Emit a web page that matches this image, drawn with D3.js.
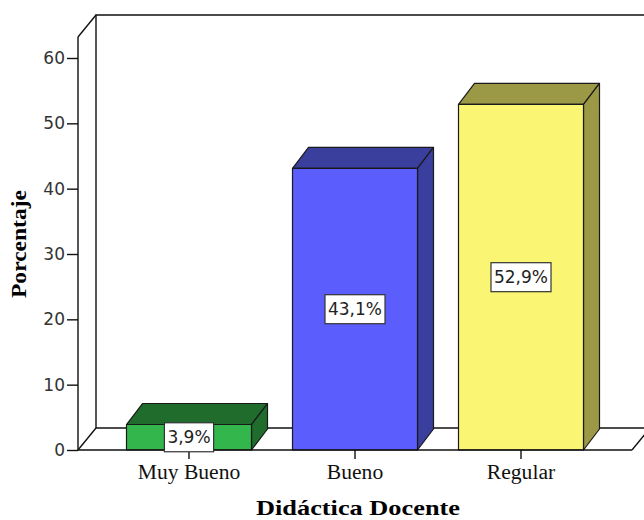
<!DOCTYPE html>
<html>
<head>
<meta charset="utf-8">
<script src="https://cdn.jsdelivr.net/npm/d3@7/dist/d3.min.js"></script>
<style>
  html, body { margin: 0; padding: 0; background: #fff; }
  svg { display: block; }
</style>
</head>
<body>
<svg id="chart" width="644" height="520"></svg>
<script>
// Didáctica Docente — porcentaje por categoría
const categories = ["Muy Bueno", "Bueno", "Regular"];
const values = [3.9, 43.1, 52.9];
const valueLabels = ["3,9%", "43,1%", "52,9%"];
const frontColors = ["#33b64b", "#5b5efd", "#faf572"];
const shadeColors = ["#1f6c2d", "#3a3e9c", "#9c9946"];
const yTicks = [0, 10, 20, 30, 40, 50, 60];

const svg = d3.select("#chart");

// plot frame
const x0 = 78, x1 = 632;          // front floor edge
const yBase = 450;
const wallDx = 18, wallDy = -22;  // depth of back wall
const barDx = 16, barDy = -21;    // depth of each bar

const y = d3.scaleLinear().domain([0, 60]).range([yBase, 58]);
const x = d3.scaleBand().domain(categories).range([106, 604])
  .paddingInner(0.247).paddingOuter(0.1235);

const axisTop = y(60) - 21;
const frame = svg.append("g")
  .attr("fill", "none").attr("stroke", "#111").attr("stroke-width", 1.4);

// back wall and floor
frame.append("path").attr("d",
  `M${x0 + wallDx},${yBase + wallDy}V${axisTop + wallDy}H${660}`);
frame.append("path").attr("d",
  `M${x0 + wallDx},${yBase + wallDy}H${660}`);
frame.append("path").attr("d",
  `M${x0},${yBase}L${x0 + wallDx},${yBase + wallDy}`);
frame.append("path").attr("d",
  `M${x1},${yBase}L${x1 + wallDx},${yBase + wallDy}`);
frame.append("path").attr("d",
  `M${x0},${axisTop}L${x0 + wallDx},${axisTop + wallDy}`);

// bars
const bars = svg.append("g").attr("stroke", "#1a1a1a").attr("stroke-width", 1.2)
  .attr("stroke-linejoin", "round");
categories.forEach((c, i) => {
  const bx = x(c), bw = x.bandwidth(), yt = y(values[i]);
  bars.append("path").attr("fill", shadeColors[i]).attr("d",
    `M${bx},${yt}L${bx + barDx},${yt + barDy}H${bx + bw + barDx}L${bx + bw},${yt}Z`);
  bars.append("path").attr("fill", shadeColors[i]).attr("d",
    `M${bx + bw},${yt}L${bx + bw + barDx},${yt + barDy}V${yBase + barDy}L${bx + bw},${yBase}Z`);
  bars.append("rect").attr("fill", frontColors[i])
    .attr("x", bx).attr("y", yt).attr("width", bw).attr("height", yBase - yt);
});

// front floor edge and value axis line
svg.append("path").attr("fill", "none").attr("stroke", "#111").attr("stroke-width", 1.4)
  .attr("d", `M${x1},${yBase}H${x0}V${axisTop}`);

// y axis
const yAxis = svg.append("g").attr("transform", `translate(${x0},0)`)
  .call(d3.axisLeft(y).tickValues(yTicks).tickSize(11).tickPadding(2).tickSizeOuter(0));
yAxis.select(".domain").remove();
yAxis.selectAll(".tick line").attr("stroke", "#111").attr("stroke-width", 1.4);
yAxis.selectAll(".tick text")
  .attr("font-family", "'DejaVu Sans', sans-serif").attr("font-size", 17)
  .attr("fill", "#333");

// x axis
const xAxis = svg.append("g").attr("transform", `translate(0,${yBase})`)
  .call(d3.axisBottom(x).tickSize(9).tickPadding(6).tickSizeOuter(0));
xAxis.select(".domain").remove();
xAxis.selectAll(".tick line").attr("stroke", "#111").attr("stroke-width", 1.4);
xAxis.selectAll(".tick text")
  .attr("font-family", "'Liberation Serif', 'Times New Roman', serif")
  .attr("font-size", 20).attr("fill", "#111")
  .attr("textLength", function () { return this.getComputedTextLength() * 1.08; })
  .attr("lengthAdjust", "spacingAndGlyphs");

// value labels in boxes
const lab = svg.append("g");
categories.forEach((c, i) => {
  const cx = x(c) + x.bandwidth() / 2;
  const cy = (y(values[i]) + yBase) / 2;
  const g = lab.append("g");
  const t = g.append("text").attr("x", cx).attr("y", cy)
    .attr("text-anchor", "middle").attr("dominant-baseline", "central")
    .attr("font-family", "'DejaVu Sans', sans-serif").attr("font-size", 17)
    .attr("fill", "#222").text(valueLabels[i]);
  const bb = t.node().getBBox();
  g.insert("rect", "text")
    .attr("x", cx - bb.width / 2 - 3).attr("y", cy - 14.5)
    .attr("width", bb.width + 6).attr("height", 29)
    .attr("fill", "#fff").attr("stroke", "#333").attr("stroke-width", 1.2);
});

// axis titles
svg.append("text").attr("x", 358).attr("y", 515).attr("text-anchor", "middle")
  .attr("font-family", "'Liberation Serif', 'Times New Roman', serif")
  .attr("font-weight", "bold").attr("font-size", 21).attr("fill", "#000")
  .attr("textLength", 204).attr("lengthAdjust", "spacingAndGlyphs")
  .text("Didáctica Docente");

svg.append("text").attr("transform", "translate(25.5,244) rotate(-90)")
  .attr("text-anchor", "middle")
  .attr("font-family", "'Liberation Serif', 'Times New Roman', serif")
  .attr("font-weight", "bold").attr("font-size", 21).attr("fill", "#000")
  .attr("textLength", 108).attr("lengthAdjust", "spacingAndGlyphs")
  .text("Porcentaje");
</script>
</body>
</html>
